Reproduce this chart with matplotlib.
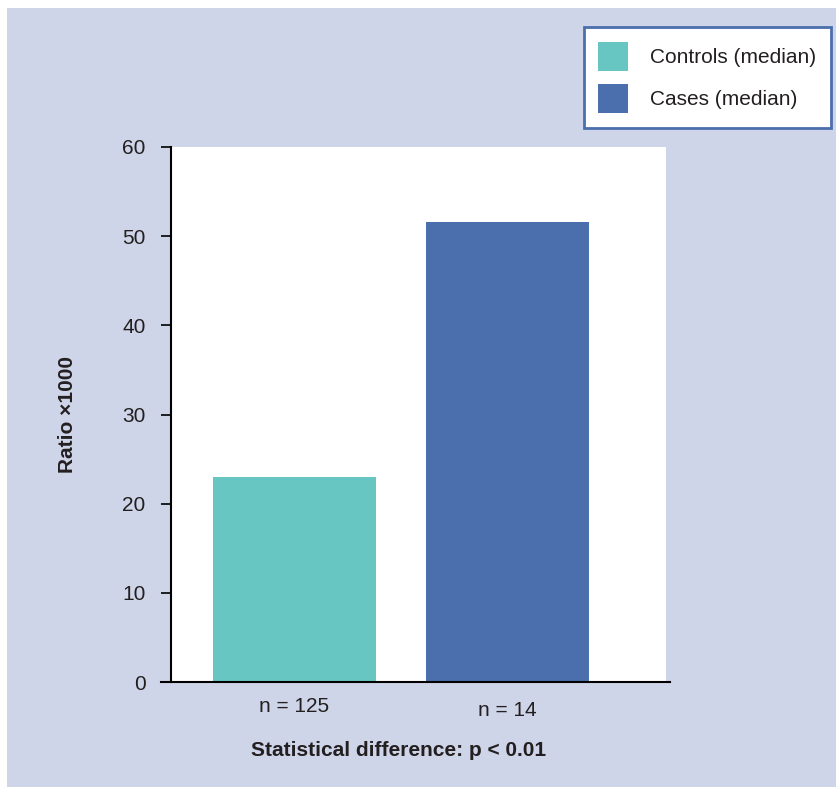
import matplotlib.pyplot as plt
from matplotlib.patches import Patch, Rectangle

# data
groups = ["Controls (median)", "Cases (median)"]
values = [23.0, 51.6]
n_labels = ["n = 125", "n = 14"]
colors = ["#67c6c1", "#4b6eac"]
yticks = [0, 10, 20, 30, 40, 50, 60]

plt.rcParams['font.family'] = ['Liberation Sans', 'DejaVu Sans']
text_col = "#231f20"
bg = "#cfd5e8"
fs = 15

fig = plt.figure(figsize=(8.37, 7.87), dpi=100, facecolor="white")
fig.patches.append(Rectangle((7 / 837, 0), 1, 1 - 8 / 787, transform=fig.transFigure,
                             facecolor=bg, edgecolor="none", zorder=-10))

ax = fig.add_axes([171 / 837, 1 - 682 / 787, 495 / 837, 535 / 787])
ax.set_facecolor("white")

x = [0, 1]
ax.bar(x, values, width=0.765, color=colors, zorder=2)

ax.set_xlim(-0.58, 1.744)
ax.set_ylim(0, 60)
ax.set_yticks(yticks)
ax.tick_params(axis="y", length=7.2, width=1.2, labelsize=fs, labelcolor=text_col, pad=11)
ax.set_xticks([])
for s in ["top", "right", "bottom"]:
    ax.spines[s].set_visible(False)
ax.spines["left"].set_linewidth(1.5)

# x axis line, slightly longer than the plot area
ax.plot([-0.02, 1.008], [0, 0], transform=ax.transAxes, color="black", lw=1.5,
        clip_on=False, zorder=5)

# sample sizes below the bars
offsets = [-25, -29]
for xi, lab, off in zip(x, n_labels, offsets):
    ax.annotate(lab, (xi, 0), xytext=(0, off), textcoords="offset pixels",
                ha="center", va="center", fontsize=fs, color=text_col)

ax.text(0.46, -0.128, "Statistical difference: p < 0.01", transform=ax.transAxes,
        ha="center", va="center", fontsize=fs, fontweight="bold", color=text_col)

ax.set_ylabel("Ratio \u00d71000", fontsize=fs, fontweight="bold", color=text_col, labelpad=33)

handles = [Patch(facecolor=c, edgecolor="none") for c in colors]
leg = fig.legend(handles, groups, loc="upper right", bbox_to_anchor=(831 / 837, 1 - 27 / 787),
                 fontsize=fs, frameon=True, fancybox=False, framealpha=1,
                 handlelength=1.44, handleheight=1.8, handletextpad=1.05,
                 labelspacing=0.62, borderpad=0.7, borderaxespad=0)
leg.get_frame().set_edgecolor("#4b6eac")
leg.get_frame().set_linewidth(2)
for t in leg.get_texts():
    t.set_color(text_col)

fig.savefig("out.png", dpi=100, facecolor=fig.get_facecolor())
